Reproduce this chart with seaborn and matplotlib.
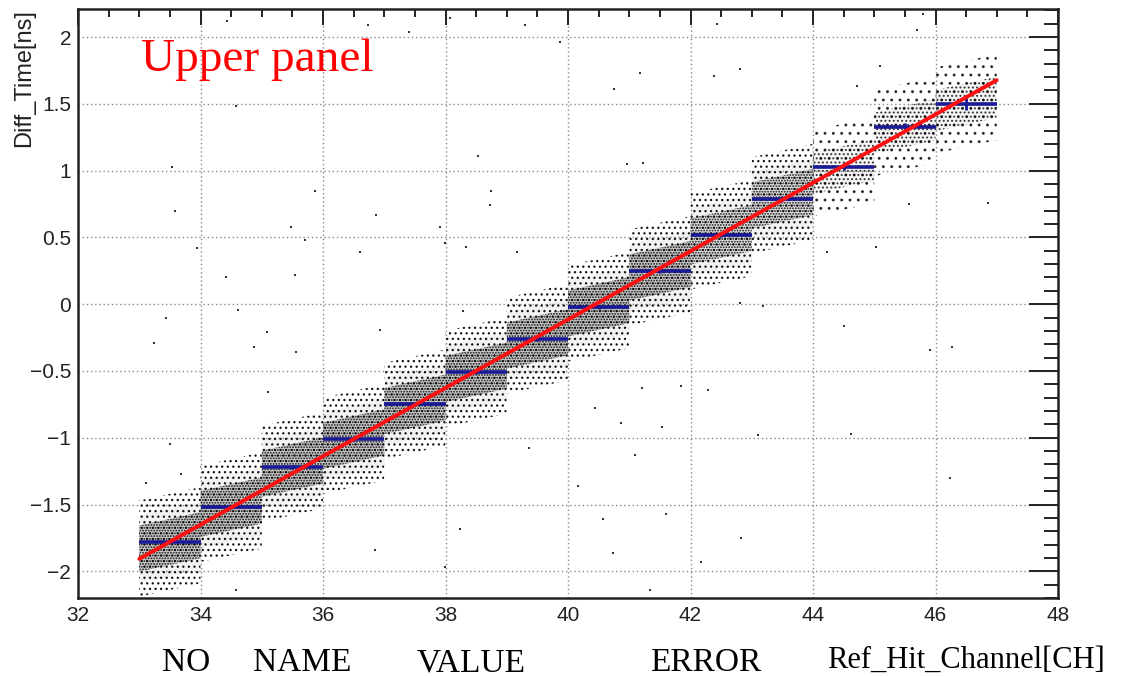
import numpy as np
import pandas as pd
import matplotlib
matplotlib.use("Agg")
import matplotlib.pyplot as plt
import seaborn as sns
from matplotlib.ticker import MultipleLocator, FuncFormatter

# ---------------- data ----------------
channels = [33, 34, 35, 36, 37, 38, 39, 40, 41, 42, 43, 44, 45, 46]
profile_mean = [-1.78, -1.52, -1.22, -1.01, -0.75, -0.51, -0.26,
                -0.02, 0.25, 0.52, 0.79, 1.03, 1.33, 1.50]
profile_err = [0.015, 0.015, 0.015, 0.015, 0.015, 0.015, 0.015,
               0.015, 0.015, 0.02, 0.02, 0.025, 0.03, 0.045]
cloud_sigma = [0.15, 0.15, 0.15, 0.15, 0.15, 0.15, 0.15,
               0.15, 0.15, 0.15, 0.15, 0.14, 0.14, 0.14]
rel_hits = [1.0, 1.0, 0.95, 0.95, 0.9, 0.85, 0.8,
            0.75, 0.75, 0.65, 0.6, 0.5, 0.35, 0.3]
cloud_tilt = 0.10   # drift of the hit cloud across one channel [ns]

fit_p0 = -10.355   # intercept
fit_p1 = 0.256     # slope
fit_range = [33.0, 47.0]

outlier_x = [34.43, 36.73, 37.40, 38.07, 39.30, 39.87, 34.58, 38.53, 33.53, 35.87,
             38.74, 38.73, 33.58, 36.87, 37.91, 35.48, 35.71, 37.99, 38.33, 36.60,
             33.94, 34.42, 35.54, 39.17,
             42.81, 43.18, 44.51, 45.91, 46.27, 42.29, 41.21, 40.44, 40.87, 41.53,
             41.84, 43.10, 44.62, 41.09, 40.16, 46.24, 40.57, 41.60, 40.73, 42.82,
             42.17, 41.34,
             33.44, 33.24, 34.61, 35.09, 34.87, 35.10, 35.56, 36.93, 33.50, 33.11,
             33.68, 36.85, 38.24, 39.36, 37.99, 34.58, 38.29,
             40.75, 41.18, 42.38, 42.81, 42.43, 45.70, 45.80, 44.72, 45.09, 40.96,
             41.22, 46.86, 45.57, 45.03, 44.23]
outlier_y = [2.12, 2.09, 2.04, 2.14, 2.09, 1.96, 1.48, 1.11, 1.03, 0.85,
             0.85, 0.74, 0.70, 0.67, 0.58, 0.58, 0.48, 0.46, 0.43, 0.39,
             0.42, 0.20, 0.22, 0.39,
             0.01, -0.01, -0.16, -0.34, -0.32, -0.64, -0.63, -0.78, -0.89, -0.92,
             -0.61, -0.98, -0.97, -1.13, -1.36, -1.30, -1.61, -1.57, -1.86, -1.75,
             -1.93, -2.14,
             -0.10, -0.29, -0.04, -0.21, -0.32, -0.66, -0.36, -0.19, -1.05, -1.34,
             -1.27, -1.84, -1.68, -1.08, -1.97, -2.14, -0.05,
             1.61, 1.73, 1.71, 1.76, 2.10, 2.05, 2.17, 1.63, 1.78, 1.05,
             1.06, 0.76, 0.75, 0.43, 0.39]

x_label = "Ref_Hit_Channel[CH]"
y_label = "Diff_Time[ns]"
panel_title = "Upper panel"
table_header = ["NO", "NAME", "VALUE", "ERROR"]

# ---------------- style ----------------
sns.set_theme(style="white")
plt.rcParams["font.family"] = ["Liberation Sans", "DejaVu Sans"]
plt.rcParams["hatch.linewidth"] = 0.9
plt.rcParams["axes.unicode_minus"] = True

W, H, DPI = 1140, 676, 100
fig = plt.figure(figsize=(W / DPI, H / DPI), dpi=DPI)
ax = fig.add_axes([78 / W, 1 - 598 / H, (1058 - 78) / W, (598 - 9) / H])

ax.set_xlim(32, 48)
ax.set_ylim(-2.2, 2.21)

# ---------------- scatter clouds (dotted texture per channel) ----------------
for ch, m, s, r in zip(channels, profile_mean, cloud_sigma, rel_hits):
    xs = np.array([ch, ch + 1.0])
    c = m + cloud_tilt * (xs - ch - 0.5)
    if r >= 0.6:
        dense = r >= 0.75
        levels = [(2.4, "...", 0.95, 0.00),
                  (1.7, None, 0.0, 0.05),
                  (1.15, "......", 0.95, 0.16 if dense else 0.08)]
    else:
        levels = [(2.3, "..", 0.8, 0.0),
                  (1.1, "....", 0.8, 0.04)]
    for k, hs, a, fa in levels:
        ax.fill_between(xs, c - k * s, c + k * s, facecolor=(0, 0, 0, fa),
                        edgecolor=(0.05, 0.05, 0.05, a), linewidth=0,
                        hatch=hs, zorder=2)

# isolated hits
out_df = pd.DataFrame({"x": outlier_x, "y": outlier_y})
sns.scatterplot(data=out_df, x="x", y="y", ax=ax, color="#333333", s=3.5,
                marker="s", linewidth=0, zorder=2, legend=False)

# ---------------- profile (blue) ----------------
prof_df = pd.DataFrame({"ch": channels, "mean": profile_mean, "err": profile_err})
ax.hlines(prof_df["mean"], prof_df["ch"], prof_df["ch"] + 1.0,
          colors="#1a1a96", linewidth=2.6, zorder=4)
ax.errorbar(prof_df["ch"] + 0.5, prof_df["mean"], yerr=prof_df["err"],
            fmt="none", ecolor="#1a1a96", elinewidth=2.0, capsize=0, zorder=4)

# ---------------- fit line (red) ----------------
fit_x = np.array(fit_range)
fit_df = pd.DataFrame({"x": fit_x, "y": fit_p0 + fit_p1 * fit_x})
sns.lineplot(data=fit_df, x="x", y="y", ax=ax, color="#ff1010", linewidth=2.8,
             zorder=5, legend=False)

# ---------------- axes styling (ROOT look) ----------------
ax.xaxis.set_major_locator(MultipleLocator(2))
ax.xaxis.set_minor_locator(MultipleLocator(0.5))
ax.yaxis.set_major_locator(MultipleLocator(0.5))
ax.yaxis.set_minor_locator(MultipleLocator(0.1))
fmt = FuncFormatter(lambda v, p: f"{v:g}".replace("-", "\u2212"))
ax.xaxis.set_major_formatter(fmt)
ax.yaxis.set_major_formatter(fmt)
ax.grid(True, which="major", linestyle=(0, (1, 2)), color="#8a8a8a", linewidth=1.0)
ax.set_axisbelow(True)

ax.tick_params(which="both", direction="in", top=True, right=True,
               colors="#222222", labelcolor="#222222", width=1.4)
ax.tick_params(axis="y", which="major", length=21, labelsize=15, pad=5)
ax.tick_params(axis="y", which="minor", length=10)
ax.tick_params(axis="x", which="major", length=11.5, labelsize=15, pad=6)
ax.tick_params(axis="x", which="minor", length=6)
for sp in ax.spines.values():
    sp.set_linewidth(1.8)
    sp.set_color("#222222")

ax.set_xlabel("")
ax.set_ylabel(y_label, fontsize=17, loc="top", color="#222222")
ax.yaxis.set_label_coords(-43 / (1058 - 78), 1.0)

# ---------------- texts ----------------
serif = ["Liberation Serif", "DejaVu Serif"]
fig.text(141 / W, 1 - 71 / H, panel_title, color="#ff0000", fontsize=34,
         family=serif, ha="left", va="baseline")
fig.text(1105 / W, 1 - 668 / H, x_label, color="black", fontsize=22,
         family=serif, ha="right", va="baseline")
for txt, px in zip(table_header, [162, 253, 417, 650]):
    fig.text(px / W, 1 - 671 / H, txt, color="black", fontsize=24,
             family=serif, ha="left", va="baseline")

fig.savefig("out.png", dpi=DPI, facecolor="white")
